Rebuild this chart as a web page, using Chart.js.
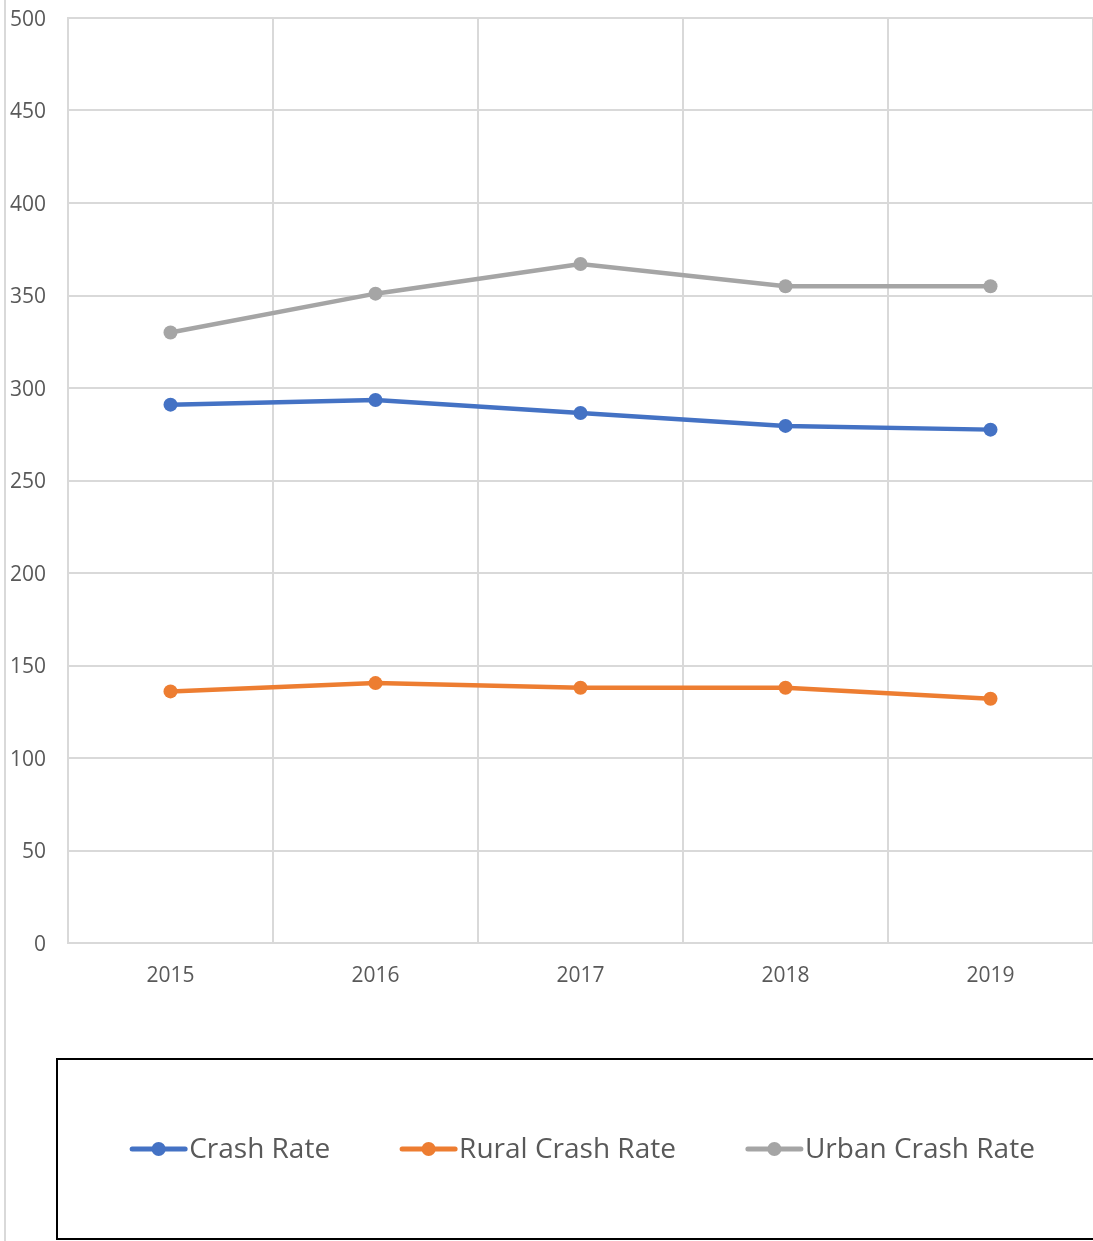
<!DOCTYPE html>
<html>
<head>
<meta charset="utf-8">
<script src="https://cdn.jsdelivr.net/npm/chart.js@4.4.1/dist/chart.umd.min.js"></script>
<style>
  html, body { margin: 0; padding: 0; background: #fff; }
  #wrap { width: 1093px; height: 1241px; position: relative; }
</style>
</head>
<body>
<div id="wrap"><canvas id="chart"></canvas></div>
<script>
// ===== Crash rates by year =====
const years = ['2015', '2016', '2017', '2018', '2019'];
const crashRate = [291, 293.5, 286.5, 279.5, 277.5];
const ruralRate = [136, 140.5, 138, 138, 132];
const urbanRate = [330, 351, 367, 355, 355];
const seriesNames = ['Crash Rate', 'Rural Crash Rate', 'Urban Crash Rate'];
const seriesColors = ['#4472C4', '#ED7D31', '#A5A5A5'];

const textColor = '#595959';
const gridColor = '#D9D9D9';
const font = '"Open Sans", "Liberation Sans", sans-serif';

function mkSet(label, data, color) {
  return {
    label: label, data: data,
    borderColor: color, backgroundColor: color,
    borderWidth: 4.5, pointRadius: 7, pointHoverRadius: 7,
    pointBorderWidth: 0, pointBackgroundColor: color,
    tension: 0, fill: false
  };
}

// legend in a black box + thin grey frame line on the left
const boxLegend = {
  id: 'boxLegend',
  afterDraw(chart) {
    const ctx = chart.ctx;
    const area = chart.chartArea;
    const xs = chart.scales.x;
    ctx.save();
    // left frame line
    ctx.strokeStyle = gridColor;
    ctx.lineWidth = 2;
    ctx.beginPath(); ctx.moveTo(5, 0); ctx.lineTo(5, chart.height); ctx.stroke();

    const top = xs.bottom;
    const bottom = chart.height - 2;
    const left = area.left - 11;
    const right = chart.width + 20;
    ctx.strokeStyle = '#000';
    ctx.lineWidth = 2;
    ctx.strokeRect(left, top, right - left, bottom - top);

    ctx.font = '28px ' + font;
    ctx.textBaseline = 'middle';
    const symW = 57, symGap = 2, itemGap = 70;
    const sets = chart.data.datasets;
    const widths = sets.map(d => symW + symGap + ctx.measureText(d.label).width);
    const total = widths.reduce((a, b) => a + b, 0) + itemGap * (sets.length - 1);
    let x = (area.left + area.right) / 2 + 2 - total / 2;
    const y = (top + bottom) / 2;
    sets.forEach((d, i) => {
      ctx.strokeStyle = d.borderColor;
      ctx.lineWidth = 5;
      ctx.lineCap = 'round';
      ctx.beginPath(); ctx.moveTo(x + 2, y); ctx.lineTo(x + symW - 2, y); ctx.stroke();
      ctx.fillStyle = d.borderColor;
      ctx.beginPath(); ctx.arc(x + symW / 2, y, 7, 0, Math.PI * 2); ctx.fill();
      ctx.fillStyle = textColor;
      ctx.textAlign = 'left';
      ctx.fillText(d.label, x + symW + symGap, y + 1);
      x += widths[i] + itemGap;
    });
    ctx.restore();
  }
};

new Chart(document.getElementById('chart'), {
  type: 'line',
  data: {
    labels: years,
    datasets: [
      mkSet(seriesNames[0], crashRate, seriesColors[0]),
      mkSet(seriesNames[1], ruralRate, seriesColors[1]),
      mkSet(seriesNames[2], urbanRate, seriesColors[2])
    ]
  },
  options: {
    responsive: true, maintainAspectRatio: false, animation: false,
    layout: { autoPadding: false, padding: { left: 9, top: 18, right: 0, bottom: 182 } },
    plugins: { legend: { display: false }, tooltip: { enabled: false } },
    scales: {
      x: {
        offset: true,
        grid: { offset: true, color: gridColor, lineWidth: 2, drawTicks: false },
        border: { color: gridColor, width: 2 },
        ticks: { color: textColor, font: { family: font, size: 21 }, padding: 20 },
        afterFit(s) { s.height = 116; s.paddingLeft = 0; s.paddingRight = 0; }
      },
      y: {
        min: 0, max: 500,
        grid: { color: gridColor, lineWidth: 2, drawTicks: false },
        border: { color: gridColor, width: 2 },
        ticks: { stepSize: 50, color: textColor, font: { family: font, size: 21 }, padding: 22, labelOffset: 2 },
        afterFit(s) { s.width = 59; s.paddingTop = 0; s.paddingBottom = 0; }
      }
    }
  },
  plugins: [boxLegend]
});
</script>
</body>
</html>
